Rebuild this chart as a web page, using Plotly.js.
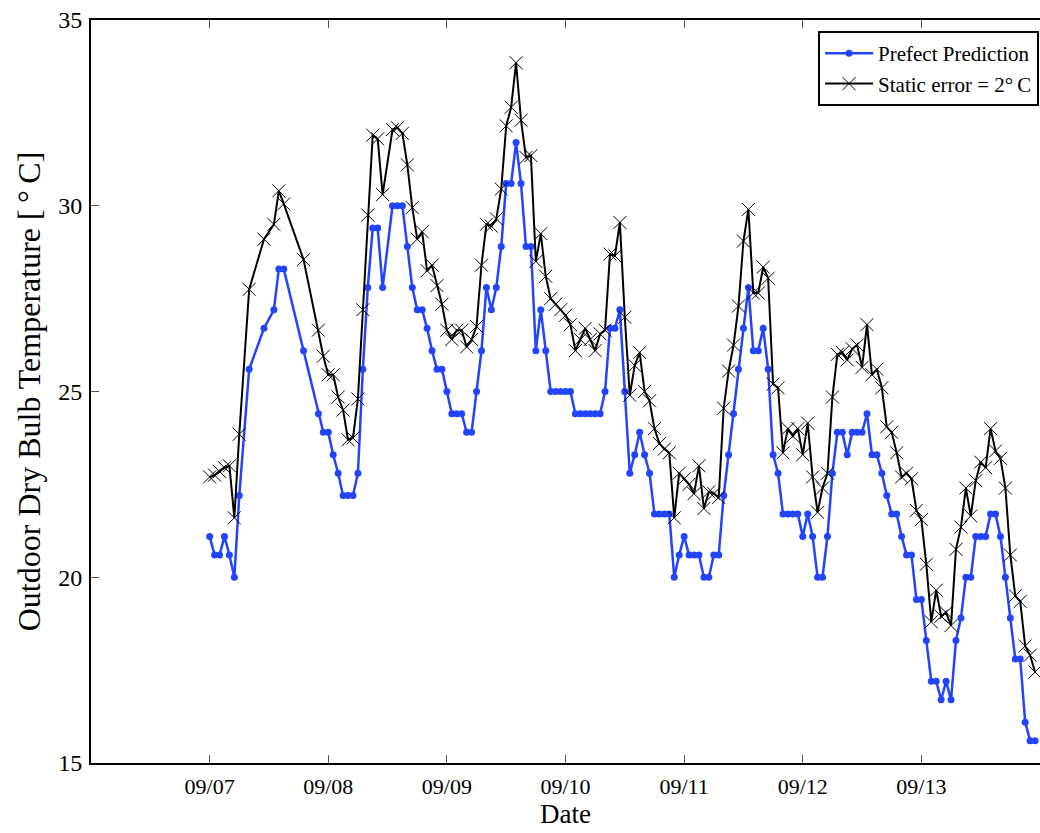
<!DOCTYPE html>
<html><head><meta charset="utf-8">
<script src="https://cdn.plot.ly/plotly-3.0.1.min.js"></script>
<style>html,body{margin:0;padding:0;background:#fff;overflow:hidden}</style>
</head><body><div id="chart" style="width:1040px;height:833px"></div>
<script>
// reading times: hours after 09/07 00:00
const startDate = '2015-09-07T00:00:00Z';
const hours = [0,1,2,3,4,5,6,8,11,13,14,15,19,
  22,23,24,25,26,27,28,29,30,31,32,33,34,35,
  37,38,39,40,41,42,43,44,45,46,47,48,49,50,51,52,53,54,55,56,57,58,59,60,
  61,62,63,64,65,66,67,68,69,70,71,72,73,74,75,76,77,78,79,80,
  81,82,83,84,85,86,87,88,89,90,91,92,93,94,95,96,97,98,99,100,
  101,102,103,104,105,106,107,108,109,110,111,112,113,114,115,116,117,118,119,120,
  121,122,123,124,125,126,127,128,129,130,131,132,133,134,135,136,137,138,139,140,
  141,142,143,144,145,146,147,148,149,150,151,152,153,154,155,156,157,158,159,160,
  161,162,163,164,165,166,167];
const perfectPrediction = [21.1,20.6,20.6,21.1,20.6,20.0,22.2,25.6,26.7,27.2,28.3,28.3,26.1,
  24.4,23.9,23.9,23.3,22.8,22.2,22.2,22.2,22.8,25.6,27.8,29.4,29.4,27.8,
  30.0,30.0,30.0,28.9,27.8,27.2,27.2,26.7,26.1,25.6,25.6,25.0,24.4,24.4,24.4,23.9,23.9,25.0,26.1,27.8,27.2,27.8,28.9,30.6,
  30.6,31.7,30.6,28.9,28.9,26.1,27.2,26.1,25.0,25.0,25.0,25.0,25.0,24.4,24.4,24.4,24.4,24.4,24.4,25.0,
  26.7,26.7,27.2,25.0,22.8,23.3,23.9,23.3,22.8,21.7,21.7,21.7,21.7,20.0,20.6,21.1,20.6,20.6,20.6,20.0,
  20.0,20.6,20.6,22.2,23.3,24.4,25.6,26.7,27.8,26.1,26.1,26.7,25.6,23.3,22.8,21.7,21.7,21.7,21.7,21.1,
  21.7,21.1,20.0,20.0,21.1,22.8,23.9,23.9,23.3,23.9,23.9,23.9,24.4,23.3,23.3,22.8,22.2,21.7,21.7,21.1,
  20.6,20.6,19.4,19.4,18.3,17.2,17.2,16.7,17.2,16.7,18.3,18.9,20.0,20.0,21.1,21.1,21.1,21.7,21.7,21.1,
  20.0,18.9,17.8,17.8,16.1,15.6,15.6];
const staticError2C = [22.7,22.75,22.85,22.95,23.0,21.6,23.85,27.75,29.1,29.5,30.4,30.05,28.55,
  26.65,25.95,25.45,25.45,24.85,24.5,23.7,23.75,24.8,27.2,29.75,31.9,31.8,30.3,
  32.05,32.1,31.95,31.1,29.95,29.1,29.3,28.25,28.4,27.85,27.35,26.65,26.4,26.65,26.65,26.2,26.4,26.75,28.4,29.5,29.45,29.65,30.45,32.15,
  32.65,33.85,32.3,31.3,31.35,28.5,29.25,28.1,27.5,27.35,27.2,27.05,26.8,26.1,26.4,26.7,26.4,26.1,26.55,26.65,
  28.7,28.65,29.55,27.0,24.9,25.7,26.05,25.0,24.75,24.0,23.6,23.45,23.35,21.6,22.8,22.65,22.5,22.25,23.0,21.85,
  22.3,22.25,22.15,24.55,25.55,26.25,27.3,29.05,29.9,27.65,27.65,28.35,28.05,25.2,25.1,23.35,24.0,23.8,24.0,23.3,
  24.15,22.7,21.75,22.4,22.8,24.85,26.0,26.05,25.85,26.15,26.25,25.65,26.8,25.45,25.6,25.1,24.05,23.9,23.35,22.7,
  22.8,22.65,21.8,21.55,20.35,18.8,19.65,18.95,19.05,18.7,20.75,21.35,22.4,21.65,22.6,23.1,22.95,24.0,23.4,23.2,
  22.4,20.6,19.5,19.35,18.15,17.9,17.45];
const tickDates = ['2015-09-07','2015-09-08','2015-09-09','2015-09-10','2015-09-11','2015-09-12','2015-09-13'];
const tickLabels = ['09/07','09/08','09/09','09/10','09/11','09/12','09/13'];
const xRange = ['2015-09-06','2015-09-14'];
const yRange = [15,35];
const yTicks = [15,20,25,30,35];
const xTitle = 'Date';

const t0 = Date.parse(startDate);
const times = hours.map(h => new Date(t0 + h*3600000).toISOString().slice(0,16).replace('T',' '));
const FONT = 'Liberation Serif, Times New Roman, serif';

const traces = [
  {x: times, y: perfectPrediction, name: 'Prefect Prediction', type: 'scatter', mode: 'lines+markers',
   line: {color: '#2344ff', width: 2.5}, marker: {color: '#2344ff', size: 7, symbol: 'circle'}},
  {x: times, y: staticError2C, name: 'Static error = 2\u00b0\u2009C', type: 'scatter', mode: 'lines+markers',
   line: {color: '#000000', width: 2}, marker: {symbol: 'x-thin', size: 13, color: '#000', line: {width: 1, color: '#000'}}}
];

const layout = {
  width: 1040, height: 833,
  margin: {l: 91, r: 0, t: 20, b: 70},
  paper_bgcolor: '#fff', plot_bgcolor: '#fff',
  font: {family: FONT, color: '#000'},
  showlegend: true,
  legend: {x: 0.999, xanchor: 'right', y: 0.985, yanchor: 'top', bordercolor: '#000', borderwidth: 2,
           bgcolor: '#fff', itemwidth: 48, font: {family: FONT, size: 21, color: '#000'}},
  xaxis: {type: 'date', range: xRange, tickvals: tickDates, ticktext: tickLabels,
          ticks: 'inside', ticklen: 8, tickwidth: 1, tickcolor: '#555',
          showline: true, linewidth: 2, linecolor: '#000', mirror: 'ticks',
          showgrid: false, zeroline: false, ticklabelstandoff: 3,
          tickfont: {family: FONT, size: 22, color: '#000'}},
  yaxis: {range: yRange, tickvals: yTicks, ticks: 'inside', ticklen: 8, tickwidth: 1, tickcolor: '#555',
          showline: true, linewidth: 2, linecolor: '#000', mirror: false,
          showgrid: false, zeroline: false, ticklabelstandoff: 2,
          tickfont: {family: FONT, size: 24, color: '#000'},
          title: {text: 'Outdoor Dry Bulb Temperature [\u2009\u00b0\u2009C]', font: {family: FONT, size: 32, color: '#000'}, standoff: 8}},
  annotations: [{text: xTitle, xref: 'paper', x: 0.5, yref: 'paper', y: 0, yanchor: 'bottom', yshift: -68,
                 showarrow: false, font: {family: FONT, size: 27, color: '#000'}}]
};
Plotly.newPlot('chart', traces, layout, {displayModeBar: false, staticPlot: true});
</script></body></html>
